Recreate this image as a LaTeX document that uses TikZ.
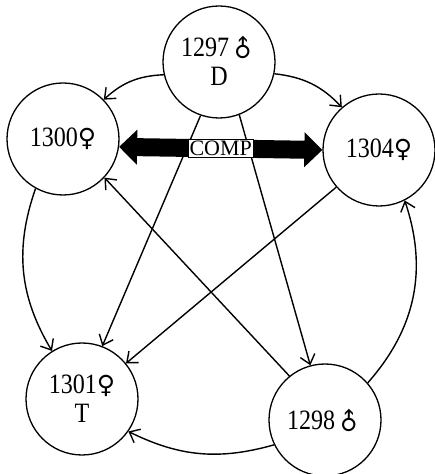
\documentclass[tikz,border=0pt]{standalone}
\usepackage{graphicx}
\usepackage{fontspec}
\setmainfont{Liberation Serif}[FakeStretch=0.86]
\newfontfamily\symfont{DejaVu Sans}
\newfontfamily\compfont{Liberation Serif}
\usetikzlibrary{arrows.meta}
\newcommand{\femsym}{{\symfont\fontsize{25}{25}\selectfont ♀}}
\newcommand{\malsym}{\raisebox{-1pt}[17pt][0pt]{\rotatebox[origin=c]{45}{\symfont\fontsize{24}{24}\selectfont ♂}}}
\begin{document}
\begin{tikzpicture}[x=1pt,y=1pt,
  person/.style={circle,draw,line width=1.3pt,minimum size=112pt,inner sep=0pt,align=center,
    font=\fontsize{28}{29}\selectfont},
  link/.style={line width=1.4pt,-{Straight Barb[length=9pt 0,width=15pt 0]}},
  comparrow/.style={line width=18pt,{Triangle[length=18pt 0,width=34pt 0]}-{Triangle[length=18pt 0,width=34pt 0]}},
  complabel/.style={fill=white,draw,line width=0.8pt,inner sep=1.5pt,font=\compfont\fontsize{22}{22}\selectfont}]
\useasboundingbox (0,0) rectangle (434,474);
\node[person] (p1297) at (219,412) {1297\malsym\\D};
\node[person] (p1300) at (63,335) {1300\femsym};
\node[person] (p1304) at (379,324) {1304\femsym};
\node[person] (p1301) at (82,75) {1301\femsym\\T};
\node[person] (p1298) at (325,54) {1298\malsym};
\draw[link] (p1297.193) to[bend right=20] (p1300.44);
\draw[link] (p1297.348) to[bend left=20] (p1304.131);
\draw[link] (p1297.251) -- (p1301.69);
\draw[link] (p1297.291) -- (p1298.105);
\draw[link] (p1300.241) to[bend right=25] (p1301.122);
\draw[link] (p1304.221) -- (p1301.39);
\draw[link] (p1298.129) -- (p1300.317);
\draw[link] (p1298.206) to[bend left=21] (p1301.325);
\draw[link] (p1298.41) to[bend right=30] (p1304.297);
\draw[comparrow] (p1300.352) -- (p1304.180) node[midway,complabel] {COMP};
\end{tikzpicture}
\end{document}
